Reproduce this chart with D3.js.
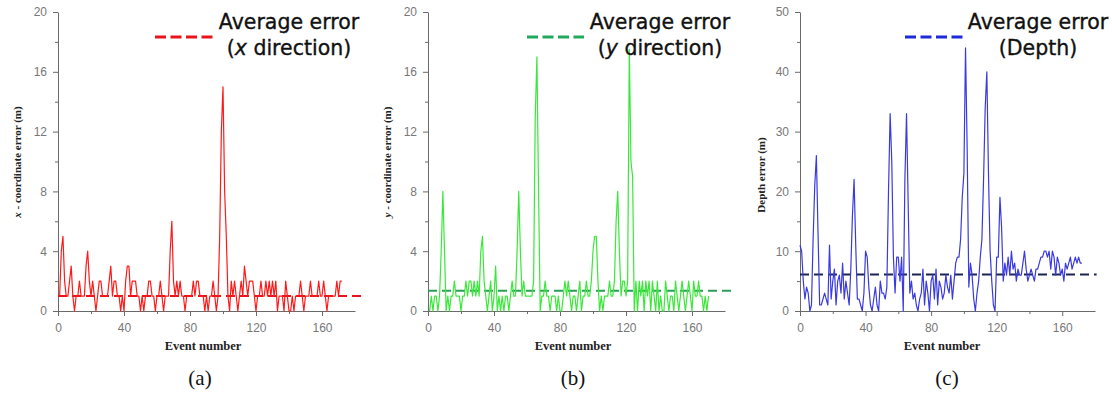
<!DOCTYPE html>
<html>
<head>
<meta charset="utf-8">
<script src="https://d3js.org/d3.v7.min.js"></script>
<style>
  html, body { margin: 0; padding: 0; background: #fff; }
  svg { display: block; }
</style>
</head>
<body>
<svg id="chart" width="1112" height="394"></svg>
<script>
// ---- Data ----
const xErrors = [1,4,5,2,1,1,2,3,1,0,1,1,2,1,1,1,3,4,2,1,2,1,0,1,2,2,1,1,1,1,2,3,1,2,2,1,1,0,1,0,
  2,3,3,1,2,2,2,1,1,0,1,0,1,1,2,2,1,1,0,1,1,2,1,0,1,1,1,4,6,2,1,2,1,2,1,1,0,1,1,1,
  1,2,1,2,2,1,1,1,0,1,0,1,1,2,1,0,1,5,12,15,8,5,1,0,2,1,2,1,0,1,2,1,3,2,1,2,2,2,1,0,
  1,1,2,1,1,2,1,2,1,2,1,2,0,1,1,1,0,2,1,0,0,1,0,1,1,1,2,1,0,1,1,1,2,1,1,1,1,2,1,1,
  2,1,0,1,1,1,1,1,2,1,2,2];
const yErrors = [0,1,0,1,1,0,1,4,8,4,0,1,0,1,1,2,1,1,1,0,1,1,2,1,2,2,1,2,1,2,1,4,5,2,1,0,1,2,0,1,
  3,0,1,0,1,0,1,1,0,1,2,1,1,4,8,4,1,2,1,1,1,1,1,2,13,17,8,0,1,1,2,1,1,0,1,1,1,0,1,0,
  0,1,2,1,2,1,0,1,1,0,1,2,0,1,1,2,1,1,2,4,5,5,2,0,1,0,1,1,1,2,1,1,2,6,8,4,1,2,2,1,
  2,17.5,10,9,0,2,0,2,1,2,0,2,1,2,0,2,1,0,2,0,1,0,0,2,1,0,1,1,0,2,1,0,1,2,1,0,1,2,1,0,
  2,1,1,2,1,1,0,1,0,1];
const depthErrors = [11,10,5,2,4,3,0,1,12,21,26,13,1,1,2,3,2,1,11,2,5,7,1,5,6,3,8,2,5,3,1,7,16,22,11,2,2,1,0,3,
  10,9,4,1,0,2,4,1,0,5,3,3,2,4,20,33,25,9,3,9,9,5,9,0,22,33,18,3,5,2,3,1,0,2,3,7,1,5,3,0,
  5,6,2,7,1,5,4,2,3,6,4,3,6,2,5,8,9,9,12,19,23,44,27,4,8,6,2,0,3,5,9,12,22,34,40,23,10,5,1,0,
  9,9,19,14,5,8,6,9,6,10,7,8,5,7,6,6,8,10,7,5,6,7,6,5,7,7,8,9,9,10,10,9,10,7,10,9,6,9,8,6,
  7,5,8,7,8,9,7,8,9,8,9,8,8];
const xStart = 1, yStart = 1, depthStart = 0;   // first event number of each series
const averages = [1.0, 1.36, 6.1];
const xTicks = [0, 40, 80, 120, 160];
const yTicksXY = [0, 4, 8, 12, 16, 20];
const yTicksDepth = [0, 10, 20, 30, 40, 50];
const panelLetters = ["(a)", "(b)", "(c)"];
const legendLine1 = "Average error";

const svg = d3.select("#chart");

function drawPanel(cfg) {
  const g = svg.append("g");
  const x = d3.scaleLinear().domain([0, 180]).range([cfg.left, cfg.left + cfg.width]);
  const y = d3.scaleLinear().domain([0, cfg.ymax]).range([311, 12]);

  const xMinor = d3.range(20, 180, 40);
  const yMinor = d3.range(cfg.ymax / 10, cfg.ymax, cfg.ymax / 5);
  const axisColor = "#6a6a6a";

  const xAxis = d3.axisBottom(x).tickValues(cfg.xTicks).tickSize(5).tickPadding(7).tickSizeOuter(0);
  const xa = g.append("g").attr("transform", `translate(0,${y(0)})`).call(xAxis);
  const xm = g.append("g").attr("transform", `translate(0,${y(0)})`)
    .call(d3.axisBottom(x).tickValues(xMinor).tickSize(3).tickFormat("").tickSizeOuter(0));
  xm.select(".domain").remove();

  const yAxis = d3.axisLeft(y).tickValues(cfg.yTicks).tickSize(5).tickPadding(6).tickSizeOuter(0);
  const ya = g.append("g").attr("transform", `translate(${x(0)},0)`).call(yAxis);
  const ym = g.append("g").attr("transform", `translate(${x(0)},0)`)
    .call(d3.axisLeft(y).tickValues(yMinor).tickSize(3).tickFormat("").tickSizeOuter(0));
  ym.select(".domain").remove();

  [xa, xm, ya, ym].forEach(a => {
    a.selectAll("path, line").attr("stroke", axisColor).attr("stroke-width", 1);
    a.selectAll("text").attr("fill", "#777").attr("font-family", "Liberation Sans, Arial, sans-serif")
      .attr("font-size", 12);
  });

  // average dashed line
  g.append("line")
    .attr("x1", x(0)).attr("x2", x(cfg.avgEnd))
    .attr("y1", y(cfg.avg)).attr("y2", y(cfg.avg))
    .attr("stroke", cfg.avgColor).attr("stroke-width", 2)
    .attr("stroke-dasharray", "9,5");

  // series
  const line = d3.line().x((d, i) => x(cfg.start + i)).y(d => y(d)).curve(d3.curveLinear);
  g.append("path").datum(cfg.data)
    .attr("d", line).attr("fill", "none")
    .attr("stroke", cfg.color).attr("stroke-width", 1.2).attr("stroke-linejoin", "round");

  // legend
  g.append("line")
    .attr("x1", cfg.legX1).attr("x2", cfg.legX2).attr("y1", 37).attr("y2", 37)
    .attr("stroke", cfg.legColor).attr("stroke-width", 3.2).attr("stroke-dasharray", "11,4.5");
  g.append("text").attr("x", cfg.legCx).attr("y", 29).attr("text-anchor", "middle")
    .attr("font-family", "DejaVu Sans, sans-serif").attr("font-size", 20.5).attr("fill", "#111")
    .attr("stroke", "#111").attr("stroke-width", 0.35)
    .text(legendLine1);
  const t2 = g.append("text").attr("x", cfg.legCx).attr("y", 55).attr("text-anchor", "middle")
    .attr("font-family", "DejaVu Sans, sans-serif").attr("font-size", 20.5).attr("fill", "#111")
    .attr("stroke", "#111").attr("stroke-width", 0.35);
  cfg.leg2.forEach(p => t2.append("tspan").attr("font-style", p.italic ? "italic" : null).text(p.t));

  // axis titles
  const yl = g.append("text")
    .attr("transform", `translate(${cfg.ylabX},${cfg.ylabY}) rotate(-90)`)
    .attr("text-anchor", "middle").attr("font-family", "Liberation Serif, Times New Roman, serif")
    .attr("font-weight", "bold").attr("font-size", 11).attr("fill", "#222");
  cfg.ylab.forEach(p => yl.append("tspan").attr("font-style", p.italic ? "italic" : null).text(p.t));

  g.append("text").attr("x", cfg.xlabX).attr("y", 350).attr("text-anchor", "middle")
    .attr("font-family", "Liberation Serif, Times New Roman, serif").attr("font-weight", "bold")
    .attr("font-size", 12.5).attr("fill", "#222").text("Event number");

  g.append("text").attr("x", cfg.letterX).attr("y", 385).attr("text-anchor", "middle")
    .attr("font-family", "Liberation Serif, Times New Roman, serif")
    .attr("font-size", 21).attr("fill", "#111").text(cfg.letter);
}

drawPanel({
  left: 58, width: 297, ymax: 20, xTicks: xTicks, yTicks: yTicksXY,
  data: xErrors, start: xStart, color: "#ff1a1a",
  avg: averages[0], avgColor: "#e8141a", avgEnd: 186,
  legX1: 155, legX2: 213, legColor: "#e8141a", legCx: 289,
  leg2: [{t: "("}, {t: "x", italic: true}, {t: " direction)"}],
  ylab: [{t: "x", italic: true}, {t: " - coordinate error (m)"}], ylabX: 21, ylabY: 162,
  xlabX: 203, letterX: 200, letter: panelLetters[0]
});
drawPanel({
  left: 428, width: 297, ymax: 20, xTicks: xTicks, yTicks: yTicksXY,
  data: yErrors, start: yStart, color: "#3ae83a",
  avg: averages[1], avgColor: "#2a9e5a", avgEnd: 185,
  legX1: 527, legX2: 584, legColor: "#22a85a", legCx: 660,
  leg2: [{t: "("}, {t: "y", italic: true}, {t: " direction)"}],
  ylab: [{t: "y", italic: true}, {t: " - coordinate error (m)"}], ylabX: 391, ylabY: 162,
  xlabX: 573, letterX: 573, letter: panelLetters[1]
});
drawPanel({
  left: 800, width: 295, ymax: 50, xTicks: xTicks, yTicks: yTicksDepth,
  data: depthErrors, start: depthStart, color: "#3a3ae0",
  avg: averages[2], avgColor: "#1a2550", avgEnd: 181,
  legX1: 905, legX2: 963, legColor: "#1c2ad8", legCx: 1038,
  leg2: [{t: "(Depth)"}],
  ylab: [{t: "Depth error (m)"}], ylabX: 765, ylabY: 175,
  xlabX: 942, letterX: 947, letter: panelLetters[2]
});
</script>
</body>
</html>
